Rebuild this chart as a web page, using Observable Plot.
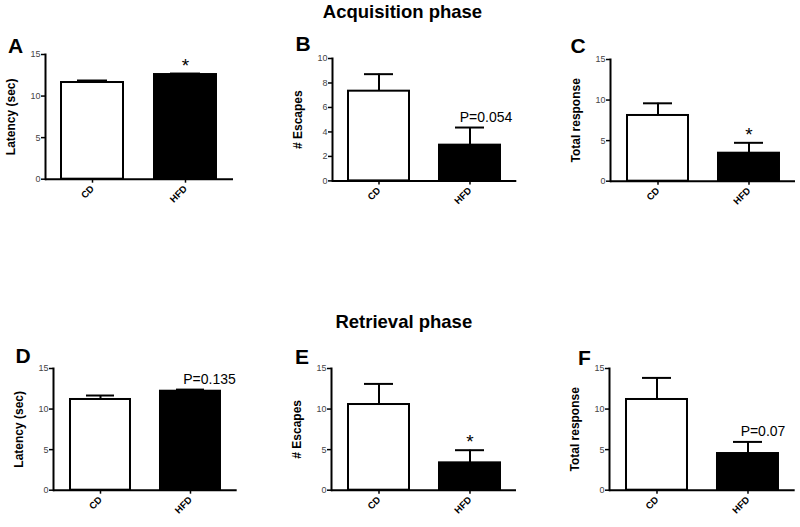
<!DOCTYPE html>
<html>
<head>
<meta charset="utf-8">
<script src="https://cdn.jsdelivr.net/npm/d3@7"></script>
<script src="https://cdn.jsdelivr.net/npm/@observablehq/plot@0.6"></script>
<style>
  html, body { margin: 0; padding: 0; background: #fff; }
  #root { position: relative; width: 800px; height: 527px; overflow: hidden; font-family: "Liberation Sans", Arial, Helvetica, sans-serif; }
  #root svg { position: absolute; }
</style>
</head>
<body>
<div id="root"></div>
<script>
// ---------- data ----------
const groups = ["CD", "HFD"];
const phaseTitles = ["Acquisition phase", "Retrieval phase"];
const panelLetters = ["A", "B", "C", "D", "E", "F"];
const yLabels = ["Latency (sec)", "# Escapes", "Total response", "Latency (sec)", "# Escapes", "Total response"];
const yMax = [15, 10, 15, 15, 15, 15];
const ticks15 = [0, 5, 10, 15];
const ticks10 = [0, 2, 4, 6, 8, 10];

const latencyAcqMean = [11.63, 12.59];
const latencyAcqSem  = [0.24, 0.12];
const escapesAcqMean = [7.33, 2.92];
const escapesAcqSem  = [1.39, 1.44];
const responseAcqMean = [8.1, 3.45];
const responseAcqSem  = [1.5, 1.28];
const latencyRetMean = [11.18, 12.2];
const latencyRetSem  = [0.49, 0.2];
const escapesRetMean = [10.56, 3.37];
const escapesRetSem  = [2.54, 1.56];
const responseRetMean = [11.18, 4.52];
const responseRetSem  = [2.66, 1.43];

const annotations = ["*", "P=0.054", "*", "P=0.135", "*", "P=0.07"];

// ---------- layout / style ----------
const FONT = '"Liberation Sans", Arial, Helvetica, sans-serif';
const barColors = ["white", "black"];
const panels = [
  {means: latencyAcqMean,  sems: latencyAcqSem,  ticks: ticks15, frame: [45, 233, 54.3, 179],   letter: [9, 53],     pdx: 0},
  {means: escapesAcqMean,  sems: escapesAcqSem,  ticks: ticks10, frame: [331.7, 516, 58.3, 180.7], letter: [296.5, 51], pdx: 16},
  {means: responseAcqMean, sems: responseAcqSem, ticks: ticks15, frame: [610, 795, 59, 180.7],  letter: [571.5, 53],  pdx: 0},
  {means: latencyRetMean,  sems: latencyRetSem,  ticks: ticks15, frame: [53.3, 237, 368.3, 490], letter: [16.5, 363], pdx: 19},
  {means: escapesRetMean,  sems: escapesRetSem,  ticks: ticks15, frame: [331, 516, 368.3, 490], letter: [296, 364],   pdx: 0},
  {means: responseRetMean, sems: responseRetSem, ticks: ticks15, frame: [609.3, 795, 368.3, 490], letter: [579, 365], pdx: 15}
];

const root = document.getElementById("root");

panels.forEach((p, k) => {
  const [x0, x1, y0, y1] = p.frame;
  const mL = 50, mR = 5, mT = 22, mB = 40;
  const rows = groups.map((g, i) => ({group: g, mean: p.means[i], hi: p.means[i] + p.sems[i]}));
  const annotRows = [{group: groups[1], hi: rows[1].hi, label: annotations[k]}];
  const isStar = annotations[k] === "*";
  const svg = Plot.plot({
    width: x1 - x0 + mL + mR,
    height: y1 - y0 + mT + mB,
    marginLeft: mL, marginRight: mR, marginTop: mT, marginBottom: mB,
    style: {fontFamily: FONT, background: "transparent", overflow: "visible", color: "black"},
    x: {domain: groups, paddingInner: 0.33, paddingOuter: 0.175},
    y: {domain: [0, yMax[k]]},
    color: {domain: groups, range: barColors},
    marks: [
      Plot.barY(rows, {x: "group", y: "mean", fill: "group", stroke: "black", strokeWidth: 2}),
      Plot.ruleX(rows, {x: "group", y1: "mean", y2: "hi", stroke: "black", strokeWidth: 2}),
      Plot.tickY(rows, {x: "group", y: "hi", stroke: "black", strokeWidth: 2, insetLeft: 16, insetRight: 16}),
      Plot.frame({anchor: "left", stroke: "black", strokeWidth: 2}),
      Plot.ruleY([0], {stroke: "black", strokeWidth: 2}),
      Plot.axisY({ticks: p.ticks, tickSize: 4, tickPadding: 1, fontSize: 9, fill: "#444", stroke: "black", strokeWidth: 1.5, label: null}),
      Plot.axisX({tickRotate: -45, tickSize: 4, tickPadding: 4, fontSize: 9.5, fontWeight: "bold", stroke: "black", strokeWidth: 1.5, fill: "black", label: null}),
      Plot.text([yLabels[k]], {text: d => d, frameAnchor: "left", textAnchor: "middle", rotate: -90, dx: -34, fontSize: 12, fontWeight: "bold", fill: "black"}),
      Plot.text(annotRows, {x: "group", y: "hi", text: "label", lineAnchor: "bottom", dy: isStar ? -2 : -6, dx: p.pdx, fontSize: isStar ? 19 : 14, fill: "black"})
    ]
  });
  svg.style.left = (x0 - mL) + "px";
  svg.style.top = (y0 - mT) + "px";
  root.append(svg);
});

// overlay: phase titles and panel letters
const ns = "http://www.w3.org/2000/svg";
const over = document.createElementNS(ns, "svg");
over.setAttribute("width", 800);
over.setAttribute("height", 527);
over.style.left = "0px";
over.style.top = "0px";
over.style.pointerEvents = "none";
function addText(str, x, y, size, anchor) {
  const t = document.createElementNS(ns, "text");
  t.setAttribute("x", x); t.setAttribute("y", y);
  t.setAttribute("font-family", FONT);
  t.setAttribute("font-size", size);
  t.setAttribute("font-weight", "bold");
  t.setAttribute("text-anchor", anchor);
  t.textContent = str;
  over.appendChild(t);
}
addText(phaseTitles[0], 402.5, 18.3, 18.5, "middle");
addText(phaseTitles[1], 403.8, 328.3, 18.5, "middle");
panels.forEach((p, k) => addText(panelLetters[k], p.letter[0] - 1, p.letter[1], 21, "start"));
root.append(over);
</script>
</body>
</html>
